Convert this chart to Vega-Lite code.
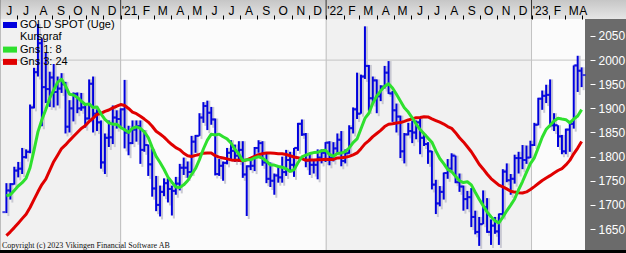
{
 "$schema": "https://vega.github.io/schema/vega-lite/v6.json",
 "width": 590, "height": 231,
 "autosize": "none",
 "padding": {"left": 0, "top": 19, "right": 36, "bottom": 3},
 "background": "#000000",
 "view": {"stroke": null},
 "resolve": {"axis": {"x": "independent", "y": "independent"}},
 "title": {"text": "Copyright (c) 2023 Vikingen Financial Software AB", "orient": "bottom", "anchor": "start", "frame": "group", "font": "Liberation Serif", "fontSize": 8, "fontWeight": "normal", "color": "#111111", "baseline": "alphabetic", "offset": -3, "dx": 2},
 "data": {"values": [
{"d":"2020-06-12","o":1685,"h":1745,"l":1683,"c":1730,"a":1719.0,"b":1636.2},
{"d":"2020-06-19","o":1730,"h":1745,"l":1711,"c":1743,"a":1721.1,"b":1644.2},
{"d":"2020-06-26","o":1743,"h":1779,"l":1742,"c":1771,"a":1730.0,"b":1652.9},
{"d":"2020-07-03","o":1771,"h":1789,"l":1757,"c":1775,"a":1739.1,"b":1662.0},
{"d":"2020-07-10","o":1775,"h":1818,"l":1764,"c":1799,"a":1746.0,"b":1671.5},
{"d":"2020-07-17","o":1799,"h":1815,"l":1796,"c":1810,"a":1755.4,"b":1680.7},
{"d":"2020-07-24","o":1810,"h":1908,"l":1807,"c":1902,"a":1776.9,"b":1694.5},
{"d":"2020-07-31","o":1902,"h":1984,"l":1900,"c":1975,"a":1813.1,"b":1710.8},
{"d":"2020-08-07","o":1975,"h":2075,"l":1966,"c":2035,"a":1851.3,"b":1727.1},
{"d":"2020-08-14","o":2035,"h":2045,"l":1863,"c":1944,"a":1876.4,"b":1742.1},
{"d":"2020-08-21","o":1944,"h":2015,"l":1911,"c":1940,"a":1897.5,"b":1753.2},
{"d":"2020-08-28","o":1940,"h":1976,"l":1903,"c":1964,"a":1921.1,"b":1771.3},
{"d":"2020-09-04","o":1964,"h":1992,"l":1902,"c":1934,"a":1938.0,"b":1789.5},
{"d":"2020-09-11","o":1934,"h":1966,"l":1906,"c":1941,"a":1954.4,"b":1803.0},
{"d":"2020-09-18","o":1941,"h":1973,"l":1932,"c":1950,"a":1960.4,"b":1816.7},
{"d":"2020-09-25","o":1950,"h":1955,"l":1848,"c":1862,"a":1946.3,"b":1824.2},
{"d":"2020-10-02","o":1862,"h":1917,"l":1850,"c":1900,"a":1929.4,"b":1833.2},
{"d":"2020-10-09","o":1900,"h":1933,"l":1873,"c":1930,"a":1927.6,"b":1841.7},
{"d":"2020-10-16","o":1930,"h":1933,"l":1890,"c":1900,"a":1922.6,"b":1850.0},
{"d":"2020-10-23","o":1900,"h":1932,"l":1895,"c":1902,"a":1914.9,"b":1858.4},
{"d":"2020-10-30","o":1902,"h":1910,"l":1860,"c":1879,"a":1908.0,"b":1864.0},
{"d":"2020-11-06","o":1879,"h":1960,"l":1877,"c":1951,"a":1909.3,"b":1873.0},
{"d":"2020-11-13","o":1951,"h":1966,"l":1850,"c":1889,"a":1901.6,"b":1879.6},
{"d":"2020-11-20","o":1889,"h":1898,"l":1853,"c":1871,"a":1902.8,"b":1887.4},
{"d":"2020-11-27","o":1871,"h":1875,"l":1775,"c":1788,"a":1888.8,"b":1889.8},
{"d":"2020-12-04","o":1788,"h":1848,"l":1764,"c":1839,"a":1877.4,"b":1893.8},
{"d":"2020-12-11","o":1839,"h":1875,"l":1820,"c":1840,"a":1869.9,"b":1896.7},
{"d":"2020-12-18","o":1840,"h":1906,"l":1826,"c":1881,"a":1867.3,"b":1901.1},
{"d":"2020-12-25","o":1881,"h":1896,"l":1858,"c":1878,"a":1867.1,"b":1904.4},
{"d":"2021-01-01","o":1878,"h":1900,"l":1862,"c":1898,"a":1860.5,"b":1908.0},
{"d":"2021-01-08","o":1898,"h":1959,"l":1817,"c":1850,"a":1855.6,"b":1905.9},
{"d":"2021-01-15","o":1850,"h":1864,"l":1803,"c":1828,"a":1850.3,"b":1899.8},
{"d":"2021-01-22","o":1828,"h":1875,"l":1826,"c":1856,"a":1858.8,"b":1892.3},
{"d":"2021-01-29","o":1856,"h":1875,"l":1831,"c":1863,"a":1861.8,"b":1888.9},
{"d":"2021-02-05","o":1863,"h":1875,"l":1785,"c":1814,"a":1858.5,"b":1883.7},
{"d":"2021-02-12","o":1814,"h":1855,"l":1810,"c":1824,"a":1851.4,"b":1877.8},
{"d":"2021-02-19","o":1824,"h":1825,"l":1760,"c":1784,"a":1839.6,"b":1871.6},
{"d":"2021-02-26","o":1784,"h":1816,"l":1717,"c":1734,"a":1819.1,"b":1863.0},
{"d":"2021-03-05","o":1734,"h":1760,"l":1687,"c":1700,"a":1800.4,"b":1852.5},
{"d":"2021-03-12","o":1700,"h":1740,"l":1676,"c":1727,"a":1787.8,"b":1846.9},
{"d":"2021-03-19","o":1727,"h":1755,"l":1718,"c":1745,"a":1773.9,"b":1840.5},
{"d":"2021-03-26","o":1745,"h":1755,"l":1705,"c":1733,"a":1757.6,"b":1832.3},
{"d":"2021-04-02","o":1733,"h":1740,"l":1678,"c":1729,"a":1747.0,"b":1825.1},
{"d":"2021-04-09","o":1729,"h":1758,"l":1721,"c":1744,"a":1737.0,"b":1818.5},
{"d":"2021-04-16","o":1744,"h":1785,"l":1730,"c":1777,"a":1736.1,"b":1814.3},
{"d":"2021-04-23","o":1777,"h":1798,"l":1762,"c":1777,"a":1741.5,"b":1807.0},
{"d":"2021-04-30","o":1777,"h":1790,"l":1756,"c":1768,"a":1750.0,"b":1802.0},
{"d":"2021-05-07","o":1768,"h":1843,"l":1766,"c":1831,"a":1763.0,"b":1800.3},
{"d":"2021-05-14","o":1831,"h":1845,"l":1808,"c":1843,"a":1775.3,"b":1802.6},
{"d":"2021-05-21","o":1843,"h":1890,"l":1843,"c":1881,"a":1793.8,"b":1804.4},
{"d":"2021-05-28","o":1881,"h":1913,"l":1870,"c":1905,"a":1815.8,"b":1807.1},
{"d":"2021-06-04","o":1905,"h":1916,"l":1855,"c":1891,"a":1834.1,"b":1807.5},
{"d":"2021-06-11","o":1891,"h":1903,"l":1866,"c":1877,"a":1846.6,"b":1807.5},
{"d":"2021-06-18","o":1877,"h":1879,"l":1761,"c":1764,"a":1845.0,"b":1801.9},
{"d":"2021-06-25","o":1764,"h":1795,"l":1760,"c":1781,"a":1846.6,"b":1799.0},
{"d":"2021-07-02","o":1781,"h":1790,"l":1750,"c":1787,"a":1841.1,"b":1797.3},
{"d":"2021-07-09","o":1787,"h":1818,"l":1784,"c":1808,"a":1836.8,"b":1795.3},
{"d":"2021-07-16","o":1808,"h":1834,"l":1795,"c":1812,"a":1828.1,"b":1793.2},
{"d":"2021-07-23","o":1812,"h":1825,"l":1789,"c":1802,"a":1815.3,"b":1792.7},
{"d":"2021-07-30","o":1802,"h":1832,"l":1789,"c":1814,"a":1805.6,"b":1792.3},
{"d":"2021-08-06","o":1814,"h":1832,"l":1756,"c":1763,"a":1791.4,"b":1791.4},
{"d":"2021-08-13","o":1763,"h":1782,"l":1677,"c":1780,"a":1793.4,"b":1793.3},
{"d":"2021-08-20","o":1780,"h":1795,"l":1772,"c":1781,"a":1793.4,"b":1796.7},
{"d":"2021-08-27","o":1781,"h":1820,"l":1770,"c":1818,"a":1797.3,"b":1800.5},
{"d":"2021-09-03","o":1818,"h":1834,"l":1808,"c":1828,"a":1799.8,"b":1803.9},
{"d":"2021-09-10","o":1828,"h":1832,"l":1781,"c":1788,"a":1796.8,"b":1806.2},
{"d":"2021-09-17","o":1788,"h":1809,"l":1745,"c":1754,"a":1790.8,"b":1807.3},
{"d":"2021-09-24","o":1754,"h":1788,"l":1737,"c":1750,"a":1782.8,"b":1807.5},
{"d":"2021-10-01","o":1750,"h":1765,"l":1721,"c":1761,"a":1782.5,"b":1806.8},
{"d":"2021-10-08","o":1761,"h":1781,"l":1746,"c":1757,"a":1779.6,"b":1806.0},
{"d":"2021-10-15","o":1757,"h":1800,"l":1746,"c":1768,"a":1778.0,"b":1806.0},
{"d":"2021-10-22","o":1768,"h":1814,"l":1760,"c":1793,"a":1774.9,"b":1804.4},
{"d":"2021-10-29","o":1793,"h":1810,"l":1772,"c":1783,"a":1769.3,"b":1801.9},
{"d":"2021-11-05","o":1783,"h":1818,"l":1758,"c":1818,"a":1773.0,"b":1799.3},
{"d":"2021-11-12","o":1818,"h":1870,"l":1812,"c":1868,"a":1787.3,"b":1797.8},
{"d":"2021-11-19","o":1868,"h":1877,"l":1843,"c":1846,"a":1799.3,"b":1795.9},
{"d":"2021-11-26","o":1846,"h":1849,"l":1778,"c":1792,"a":1803.1,"b":1792.3},
{"d":"2021-12-03","o":1792,"h":1808,"l":1762,"c":1783,"a":1806.4,"b":1793.1},
{"d":"2021-12-10","o":1783,"h":1793,"l":1765,"c":1783,"a":1808.3,"b":1793.2},
{"d":"2021-12-17","o":1783,"h":1815,"l":1753,"c":1798,"a":1808.9,"b":1793.7},
{"d":"2021-12-24","o":1798,"h":1815,"l":1786,"c":1808,"a":1812.0,"b":1793.7},
{"d":"2021-12-31","o":1808,"h":1830,"l":1789,"c":1829,"a":1813.4,"b":1794.4},
{"d":"2022-01-07","o":1829,"h":1832,"l":1782,"c":1797,"a":1804.5,"b":1794.2},
{"d":"2022-01-14","o":1797,"h":1830,"l":1790,"c":1817,"a":1800.9,"b":1794.3},
{"d":"2022-01-21","o":1817,"h":1848,"l":1805,"c":1835,"a":1806.3,"b":1797.3},
{"d":"2022-01-28","o":1835,"h":1853,"l":1780,"c":1791,"a":1807.3,"b":1797.8},
{"d":"2022-02-04","o":1791,"h":1815,"l":1786,"c":1807,"a":1810.3,"b":1798.8},
{"d":"2022-02-11","o":1807,"h":1865,"l":1806,"c":1859,"a":1817.9,"b":1800.5},
{"d":"2022-02-18","o":1859,"h":1902,"l":1848,"c":1898,"a":1829.1,"b":1803.5},
{"d":"2022-02-25","o":1898,"h":1974,"l":1878,"c":1889,"a":1836.6,"b":1807.7},
{"d":"2022-03-04","o":1889,"h":1970,"l":1889,"c":1966,"a":1857.8,"b":1816.5},
{"d":"2022-03-11","o":1966,"h":2070,"l":1961,"c":1988,"a":1879.1,"b":1826.4},
{"d":"2022-03-18","o":1988,"h":1990,"l":1895,"c":1921,"a":1889.9,"b":1833.1},
{"d":"2022-03-25","o":1921,"h":1966,"l":1910,"c":1958,"a":1910.8,"b":1841.5},
{"d":"2022-04-01","o":1958,"h":1960,"l":1890,"c":1925,"a":1925.5,"b":1848.0},
{"d":"2022-04-08","o":1925,"h":1948,"l":1915,"c":1945,"a":1936.3,"b":1854.3},
{"d":"2022-04-15","o":1945,"h":1988,"l":1941,"c":1974,"a":1945.8,"b":1862.3},
{"d":"2022-04-22","o":1974,"h":1998,"l":1930,"c":1931,"a":1951.0,"b":1867.0},
{"d":"2022-04-29","o":1931,"h":1936,"l":1872,"c":1896,"a":1942.3,"b":1868.2},
{"d":"2022-05-06","o":1896,"h":1910,"l":1850,"c":1883,"a":1929.1,"b":1869.7},
{"d":"2022-05-13","o":1883,"h":1885,"l":1797,"c":1811,"a":1915.4,"b":1870.5},
{"d":"2022-05-20","o":1811,"h":1849,"l":1786,"c":1846,"a":1901.4,"b":1873.1},
{"d":"2022-05-27","o":1846,"h":1870,"l":1844,"c":1853,"a":1892.4,"b":1876.0},
{"d":"2022-06-03","o":1853,"h":1874,"l":1828,"c":1850,"a":1880.5,"b":1878.2},
{"d":"2022-06-10","o":1850,"h":1875,"l":1836,"c":1871,"a":1867.6,"b":1880.8},
{"d":"2022-06-17","o":1871,"h":1880,"l":1805,"c":1839,"a":1856.1,"b":1881.3},
{"d":"2022-06-24","o":1839,"h":1847,"l":1822,"c":1826,"a":1847.4,"b":1882.5},
{"d":"2022-07-01","o":1826,"h":1830,"l":1785,"c":1811,"a":1838.4,"b":1882.2},
{"d":"2022-07-08","o":1811,"h":1812,"l":1732,"c":1742,"a":1829.8,"b":1878.3},
{"d":"2022-07-15","o":1742,"h":1752,"l":1681,"c":1703,"a":1811.9,"b":1874.7},
{"d":"2022-07-22","o":1703,"h":1739,"l":1697,"c":1727,"a":1796.1,"b":1871.3},
{"d":"2022-07-29","o":1727,"h":1767,"l":1711,"c":1766,"a":1785.6,"b":1867.5},
{"d":"2022-08-05","o":1766,"h":1795,"l":1754,"c":1775,"a":1773.6,"b":1862.3},
{"d":"2022-08-12","o":1775,"h":1807,"l":1771,"c":1802,"a":1769.0,"b":1858.7},
{"d":"2022-08-19","o":1802,"h":1802,"l":1745,"c":1747,"a":1759.1,"b":1849.6},
{"d":"2022-08-26","o":1747,"h":1765,"l":1727,"c":1738,"a":1750.0,"b":1839.2},
{"d":"2022-09-02","o":1738,"h":1740,"l":1688,"c":1712,"a":1746.3,"b":1830.5},
{"d":"2022-09-09","o":1712,"h":1729,"l":1691,"c":1716,"a":1747.9,"b":1820.4},
{"d":"2022-09-16","o":1716,"h":1735,"l":1654,"c":1675,"a":1741.4,"b":1810.0},
{"d":"2022-09-23","o":1675,"h":1688,"l":1639,"c":1644,"a":1726.1,"b":1797.4},
{"d":"2022-09-30","o":1644,"h":1675,"l":1615,"c":1660,"a":1711.8,"b":1784.3},
{"d":"2022-10-07","o":1660,"h":1730,"l":1660,"c":1695,"a":1698.4,"b":1774.5},
{"d":"2022-10-14","o":1695,"h":1714,"l":1642,"c":1644,"a":1685.5,"b":1764.0},
{"d":"2022-10-21","o":1644,"h":1670,"l":1617,"c":1657,"a":1675.4,"b":1754.6},
{"d":"2022-10-28","o":1657,"h":1675,"l":1640,"c":1645,"a":1667.0,"b":1747.7},
{"d":"2022-11-04","o":1645,"h":1682,"l":1617,"c":1681,"a":1662.6,"b":1740.8},
{"d":"2022-11-11","o":1681,"h":1774,"l":1676,"c":1769,"a":1674.4,"b":1737.3},
{"d":"2022-11-18","o":1769,"h":1786,"l":1747,"c":1751,"a":1687.8,"b":1733.2},
{"d":"2022-11-25","o":1751,"h":1764,"l":1721,"c":1754,"a":1699.5,"b":1728.3},
{"d":"2022-12-02","o":1754,"h":1804,"l":1744,"c":1797,"a":1712.3,"b":1726.5},
{"d":"2022-12-09","o":1797,"h":1810,"l":1765,"c":1797,"a":1731.4,"b":1725.3},
{"d":"2022-12-16","o":1797,"h":1824,"l":1774,"c":1793,"a":1748.4,"b":1724.6},
{"d":"2022-12-23","o":1793,"h":1823,"l":1785,"c":1798,"a":1767.5,"b":1726.9},
{"d":"2022-12-30","o":1798,"h":1833,"l":1797,"c":1824,"a":1785.4,"b":1732.0},
{"d":"2023-01-06","o":1824,"h":1870,"l":1822,"c":1866,"a":1797.5,"b":1737.8},
{"d":"2023-01-13","o":1866,"h":1922,"l":1865,"c":1920,"a":1818.6,"b":1744.2},
{"d":"2023-01-20","o":1920,"h":1937,"l":1897,"c":1926,"a":1840.1,"b":1750.5},
{"d":"2023-01-27","o":1926,"h":1949,"l":1911,"c":1928,"a":1856.5,"b":1755.7},
{"d":"2023-02-03","o":1928,"h":1960,"l":1861,"c":1865,"a":1865.0,"b":1760.6},
{"d":"2023-02-10","o":1865,"h":1890,"l":1853,"c":1865,"a":1874.0,"b":1765.9},
{"d":"2023-02-17","o":1865,"h":1865,"l":1820,"c":1842,"a":1879.5,"b":1771.3},
{"d":"2023-02-24","o":1842,"h":1845,"l":1805,"c":1811,"a":1877.9,"b":1775.3},
{"d":"2023-03-03","o":1811,"h":1858,"l":1805,"c":1856,"a":1876.6,"b":1782.8},
{"d":"2023-03-10","o":1856,"h":1871,"l":1810,"c":1868,"a":1870.1,"b":1792.2},
{"d":"2023-03-17","o":1868,"h":1989,"l":1858,"c":1989,"a":1878.0,"b":1805.9},
{"d":"2023-03-24","o":1989,"h":2009,"l":1934,"c":1978,"a":1884.3,"b":1817.7},
{"d":"2023-03-31","o":1978,"h":1985,"l":1944,"c":1969,"a":1897.3,"b":1831.2}
 ]},
 "layer": [
  {
   "data": {"values": [
    {"s":"2020-06-01","e":"2021-01-01","k":0},
    {"s":"2021-01-01","e":"2022-01-01","k":1},
    {"s":"2022-01-01","e":"2023-01-01","k":0},
    {"s":"2023-01-01","e":"2023-04-06","k":1}]},
   "mark": {"type": "rect"},
   "encoding": {
    "x": {"field": "s", "type": "temporal", "axis": null},
    "x2": {"field": "e"},
    "fill": {"condition": {"test": "datum.k == 0", "value": "#f1f1f1"}, "value": "#fbfbfb"}
   }
  },
  {
   "data": {"values": [{"t":"2021-01-01"},{"t":"2022-01-01"},{"t":"2023-01-01"}]},
   "mark": {"type": "rule", "color": "#c4c4c4", "strokeWidth": 1},
   "encoding": {"x": {"field": "t", "type": "temporal", "axis": null}}
  },
  {
   "data": {"values": [{"g": 2000}]},
   "mark": {"type": "rule", "color": "#c4c4c4", "strokeWidth": 1},
   "encoding": {"y": {"field": "g", "type": "quantitative", "axis": null}}
  },
  {
   "data": {"values": [{}]},
   "mark": {"type": "rect", "color": "#6b6b6b"},
   "encoding": {
    "x": {"datum": {"year": 2023, "month": 4, "date": 6, "utc": true}, "type": "temporal", "axis": null},
    "x2": {"datum": {"year": 2023, "month": 7, "date": 1, "utc": true}}
   }
  },
  {
   "data": {"values": [{}]},
   "mark": {"type": "rect", "fill": {"gradient": "linear", "x1": 0, "y1": 0, "x2": 0, "y2": 1, "stops": [{"offset": 0, "color": "#c4c4c4"}, {"offset": 1, "color": "#e6e6e6"}]}},
   "encoding": {
    "x": {"datum": {"year": 2020, "month": 6, "date": 1, "utc": true}, "type": "temporal", "axis": null},
    "x2": {"datum": {"year": 2023, "month": 7, "date": 1, "utc": true}},
    "y": {"datum": 2127, "type": "quantitative", "axis": null},
    "y2": {"datum": 2085.2}
   }
  },
  {
   "data": {"values": [{"t":"2021-01-01"},{"t":"2022-01-01"},{"t":"2023-01-01"}]},
   "mark": {"type": "rule", "color": "#333333", "strokeWidth": 1},
   "encoding": {
    "x": {"field": "t", "type": "temporal", "axis": null},
    "y": {"datum": 2085.2, "type": "quantitative", "axis": null},
    "y2": {"datum": 2127}
   }
  },
  {
   "mark": {"type": "rule", "color": "#c9c9d2", "strokeWidth": 2, "xOffset": 2, "yOffset": 3},
   "encoding": {
    "x": {"field": "d", "type": "temporal", "axis": null},
    "y": {"field": "l", "type": "quantitative", "axis": null},
    "y2": {"field": "h"}
   }
  },
  {
   "mark": {"type": "bar", "size": 2},
   "encoding": {
    "x": {"field": "d", "type": "temporal",
     "scale": {"type": "utc", "domain": [{"year": 2020, "month": 6, "date": 9, "hours": 12, "utc": true}, {"year": 2023, "month": 4, "date": 6, "utc": true}], "nice": false},
     "axis": {
      "orient": "top", "title": null, "domain": false, "grid": false, "zindex": 2,
      "tickCount": 200,
      "values": [
       {"year":2020,"month":6,"date":16,"utc":true},{"year":2020,"month":7,"date":1,"utc":true},{"year":2020,"month":7,"date":16,"utc":true},{"year":2020,"month":8,"date":1,"utc":true},{"year":2020,"month":8,"date":16,"utc":true},{"year":2020,"month":9,"date":1,"utc":true},{"year":2020,"month":9,"date":16,"utc":true},{"year":2020,"month":10,"date":1,"utc":true},{"year":2020,"month":10,"date":16,"utc":true},{"year":2020,"month":11,"date":1,"utc":true},{"year":2020,"month":11,"date":16,"utc":true},{"year":2020,"month":12,"date":1,"utc":true},{"year":2020,"month":12,"date":16,"utc":true},
       {"year":2021,"month":1,"date":1,"utc":true},{"year":2021,"month":1,"date":16,"utc":true},{"year":2021,"month":2,"date":1,"utc":true},{"year":2021,"month":2,"date":15,"utc":true},{"year":2021,"month":3,"date":1,"utc":true},{"year":2021,"month":3,"date":16,"utc":true},{"year":2021,"month":4,"date":1,"utc":true},{"year":2021,"month":4,"date":16,"utc":true},{"year":2021,"month":5,"date":1,"utc":true},{"year":2021,"month":5,"date":16,"utc":true},{"year":2021,"month":6,"date":1,"utc":true},{"year":2021,"month":6,"date":16,"utc":true},{"year":2021,"month":7,"date":1,"utc":true},{"year":2021,"month":7,"date":16,"utc":true},{"year":2021,"month":8,"date":1,"utc":true},{"year":2021,"month":8,"date":16,"utc":true},{"year":2021,"month":9,"date":1,"utc":true},{"year":2021,"month":9,"date":16,"utc":true},{"year":2021,"month":10,"date":1,"utc":true},{"year":2021,"month":10,"date":16,"utc":true},{"year":2021,"month":11,"date":1,"utc":true},{"year":2021,"month":11,"date":16,"utc":true},{"year":2021,"month":12,"date":1,"utc":true},{"year":2021,"month":12,"date":16,"utc":true},
       {"year":2022,"month":1,"date":1,"utc":true},{"year":2022,"month":1,"date":16,"utc":true},{"year":2022,"month":2,"date":1,"utc":true},{"year":2022,"month":2,"date":15,"utc":true},{"year":2022,"month":3,"date":1,"utc":true},{"year":2022,"month":3,"date":16,"utc":true},{"year":2022,"month":4,"date":1,"utc":true},{"year":2022,"month":4,"date":16,"utc":true},{"year":2022,"month":5,"date":1,"utc":true},{"year":2022,"month":5,"date":16,"utc":true},{"year":2022,"month":6,"date":1,"utc":true},{"year":2022,"month":6,"date":16,"utc":true},{"year":2022,"month":7,"date":1,"utc":true},{"year":2022,"month":7,"date":16,"utc":true},{"year":2022,"month":8,"date":1,"utc":true},{"year":2022,"month":8,"date":16,"utc":true},{"year":2022,"month":9,"date":1,"utc":true},{"year":2022,"month":9,"date":16,"utc":true},{"year":2022,"month":10,"date":1,"utc":true},{"year":2022,"month":10,"date":16,"utc":true},{"year":2022,"month":11,"date":1,"utc":true},{"year":2022,"month":11,"date":16,"utc":true},{"year":2022,"month":12,"date":1,"utc":true},{"year":2022,"month":12,"date":16,"utc":true},
       {"year":2023,"month":1,"date":1,"utc":true},{"year":2023,"month":1,"date":16,"utc":true},{"year":2023,"month":2,"date":1,"utc":true},{"year":2023,"month":2,"date":15,"utc":true},{"year":2023,"month":3,"date":1,"utc":true},{"year":2023,"month":3,"date":16,"utc":true},{"year":2023,"month":4,"date":1,"utc":true},{"year":2023,"month":4,"date":2,"utc":true}
      ],
      "labelExpr": "utcdate(datum.value) == 1 ? '' : (utcmonth(datum.value) == 0 ? \"'\" + utcFormat(datum.value, '%y') : ['J','F','M','A','M','J','J','A','S','O','N','D'][utcmonth(datum.value)])",
      "labelAlign": "center", "labelFlush": false, "labelOverlap": false, "labelBound": false,
      "labelFont": "Liberation Sans", "labelFontSize": 12, "labelColor": "#000000",
      "labelBaseline": "alphabetic", "labelPadding": 1,
      "tickSize": 4, "tickWidth": 1,
      "tickColor": {"condition": {"test": "utcdate(datum.value) == 1", "value": "#000000"}, "value": "rgba(0,0,0,0)"}
     }},
    "y": {"field": "l", "type": "quantitative",
     "scale": {"domain": [1606.5, 2085.2], "nice": false, "zero": false},
     "axis": {"orient": "right", "title": null, "values": [1650, 1700, 1750, 1800, 1850, 1900, 1950, 2000, 2050], "format": "d",
      "domain": false, "grid": false, "zindex": 2, "tickSize": 5, "tickColor": "#ffffff", "tickWidth": 1,
      "labelColor": "#ffffff", "labelFont": "Liberation Sans", "labelFontSize": 12, "labelPadding": 3}},
    "y2": {"field": "h"},
    "color": {"datum": "GOLD SPOT (Uge)", "type": "nominal",
     "scale": {"domain": ["GOLD SPOT (Uge)", "Kursgraf", "Gns 1: 8", "Gns 3: 24"], "range": ["#0000dd", "rgba(0,0,0,0)", "#2ee02e", "#e00000"]},
     "legend": {"orient": "none", "legendX": 4, "legendY": 0, "title": null, "padding": 0,
      "symbolType": "M-1.17,-0.5H1.17V0.5H-1.17Z", "symbolSize": 144, "symbolStrokeWidth": 0, "symbolOpacity": 1,
      "rowPadding": 1.3, "labelOffset": 4, "labelFont": "Liberation Sans", "labelFontSize": 11, "labelColor": "#000000"}}
   }
  },
  {
   "mark": {"type": "tick", "orient": "horizontal", "size": 3, "thickness": 2, "xOffset": -2.5, "color": "#0000dd"},
   "encoding": {
    "x": {"field": "d", "type": "temporal", "axis": null},
    "y": {"field": "o", "type": "quantitative", "axis": null}
   }
  },
  {
   "mark": {"type": "tick", "orient": "horizontal", "size": 3, "thickness": 2, "xOffset": 2.5, "color": "#0000dd"},
   "encoding": {
    "x": {"field": "d", "type": "temporal", "axis": null},
    "y": {"field": "c", "type": "quantitative", "axis": null}
   }
  },
  {
   "mark": {"type": "line", "strokeWidth": 3, "strokeJoin": "round"},
   "encoding": {
    "x": {"field": "d", "type": "temporal", "axis": null},
    "y": {"field": "b", "type": "quantitative", "axis": null},
    "color": {"datum": "Gns 3: 24", "type": "nominal", "legend": null}
   }
  },
  {
   "mark": {"type": "line", "strokeWidth": 3, "strokeJoin": "round"},
   "encoding": {
    "x": {"field": "d", "type": "temporal", "axis": null},
    "y": {"field": "a", "type": "quantitative", "axis": null},
    "color": {"datum": "Gns 1: 8", "type": "nominal", "legend": null}
   }
  }
 ]
}
